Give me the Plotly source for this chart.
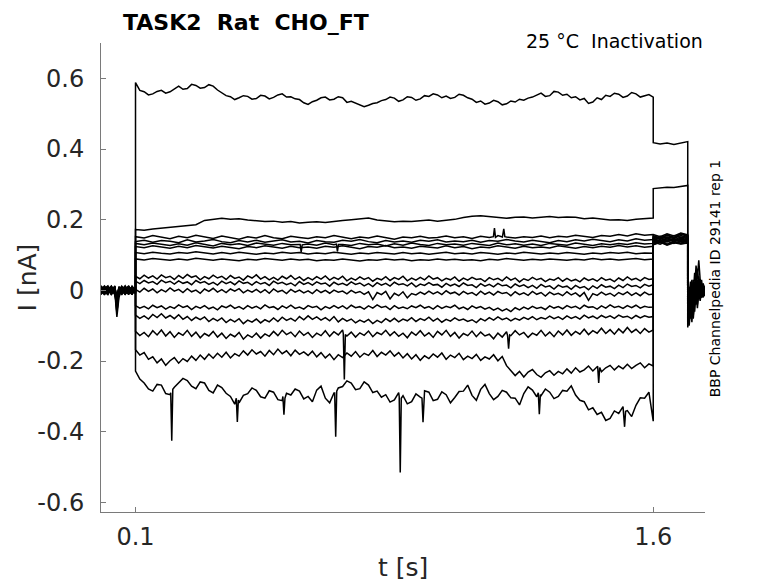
import plotly.graph_objects as go

# ---------------- time grids (s) ----------------
t_pre = [0.0, 0.01, 0.02, 0.03, 0.04, 0.046, 0.052, 0.06, 0.07, 0.08, 0.09, 0.1]
t_pulse = [round(0.1 + 0.025 * i, 4) for i in range(61)]      # coarse sampling
t_fine = [round(0.1 + 0.0125 * i, 5) for i in range(121)]     # fine sampling (noisy sweeps)
t_step = [1.6, 1.62, 1.64, 1.66, 1.68, 1.7]
t_tail = [1.7, 1.704, 1.708, 1.712, 1.716, 1.72, 1.724, 1.728, 1.732, 1.736, 1.74, 1.744, 1.75]

x_tick_vals = [0.1, 1.6]
x_tick_text = ["0.1", "1.6"]
y_tick_vals = [-0.6, -0.4, -0.2, 0.0, 0.2, 0.4, 0.6]
y_tick_text = ["-0.6", "-0.4", "-0.2", "0", "0.2", "0.4", "0.6"]

# ---------------- currents (nA) ----------------
pre_01 = [0.004,-0.008,0.010,-0.003,0.006,-0.012,0.002,-0.006,0.009,-0.004,0.007,-0.002]
pre_02 = [-0.006,0.008,-0.010,0.005,-0.004,-0.075,-0.020,0.004,-0.008,0.010,-0.005,0.003]
pre_03 = [0.010,-0.004,0.006,-0.011,0.003,-0.030,0.008,-0.010,0.004,-0.007,0.012,0.000]
pre_04 = [-0.002,0.012,-0.007,0.009,-0.013,-0.045,-0.004,0.010,-0.003,0.006,-0.009,0.005]
pre_05 = [0.008,-0.013,0.004,0.012,-0.006,-0.020,0.010,-0.005,0.011,-0.012,0.003,-0.004]
pre_06 = [-0.010,0.005,0.013,-0.006,0.010,-0.060,-0.012,0.007,-0.011,0.004,0.009,-0.006]
pre_07 = [0.013,0.002,-0.009,0.007,-0.002,-0.015,0.005,-0.013,0.006,0.011,-0.006,0.008]
pre_08 = [-0.005,-0.011,0.008,-0.013,0.012,-0.035,0.000,0.012,-0.006,-0.010,0.006,-0.008]
pre_09 = [0.006,0.010,-0.004,0.003,-0.010,-0.025,-0.007,0.003,0.013,-0.003,-0.011,0.002]
pre_10 = [-0.012,0.004,0.011,-0.008,0.005,-0.050,0.011,-0.008,-0.002,0.008,0.004,-0.010]
pre_11 = [0.002,-0.006,-0.012,0.010,-0.008,-0.010,-0.003,0.009,-0.012,0.013,-0.008,0.006]
pre_12 = [0.011,-0.009,0.003,-0.004,0.013,-0.040,0.006,-0.002,0.008,-0.006,0.010,-0.003]
pre_13 = [-0.008,0.013,-0.002,0.012,-0.005,-0.018,-0.010,0.011,-0.004,0.002,-0.012,0.009]
pre_14 = [0.005,-0.003,0.009,-0.010,0.008,-0.065,0.003,-0.011,0.010,-0.009,0.005,-0.001]
pre_15 = [-0.003,0.007,-0.006,0.004,-0.011,-0.028,0.009,-0.004,-0.010,0.012,-0.003,0.004]
pre_16 = [0.007,-0.010,0.002,-0.007,0.011,-0.022,-0.005,0.006,-0.009,0.003,-0.006,0.001]

# sweep 1 (top, ~0.55 nA), fine sampling
pulse_01 = [0.588,0.566,0.562,0.553,0.556,0.563,0.566,0.558,0.562,0.571,
            0.578,0.569,0.571,0.583,0.580,0.572,0.574,0.582,0.578,0.567,
            0.560,0.551,0.548,0.540,0.545,0.551,0.549,0.541,0.543,0.552,
            0.550,0.542,0.546,0.553,0.556,0.547,0.548,0.542,0.540,0.531,
            0.526,0.534,0.538,0.545,0.547,0.539,0.541,0.548,0.545,0.532,
            0.535,0.530,0.527,0.520,0.524,0.529,0.531,0.537,0.540,0.547,
            0.544,0.535,0.539,0.548,0.546,0.538,0.542,0.551,0.549,0.556,
            0.553,0.545,0.550,0.543,0.546,0.555,0.552,0.545,0.541,0.532,
            0.536,0.527,0.530,0.538,0.534,0.525,0.528,0.536,0.533,0.541,
            0.538,0.544,0.547,0.553,0.558,0.549,0.551,0.563,0.561,0.552,
            0.555,0.545,0.548,0.539,0.543,0.529,0.533,0.545,0.540,0.552,
            0.549,0.558,0.555,0.546,0.550,0.560,0.556,0.547,0.551,0.554,
            0.547]
# sweeps 2-8, coarse sampling
pulse_02 = [0.172,0.170,0.174,0.176,0.178,0.181,0.183,0.186,0.198,0.200,
            0.204,0.201,0.203,0.199,0.197,0.195,0.196,0.193,0.195,0.191,
            0.193,0.194,0.192,0.196,0.198,0.200,0.202,0.205,0.199,0.196,
            0.194,0.196,0.195,0.197,0.199,0.196,0.198,0.201,0.206,0.210,
            0.211,0.208,0.206,0.204,0.207,0.208,0.205,0.207,0.209,0.206,
            0.208,0.207,0.203,0.205,0.201,0.199,0.200,0.198,0.201,0.203,0.205]
pulse_03 = [0.152,0.148,0.155,0.150,0.146,0.153,0.149,0.156,0.151,0.147,
            0.154,0.150,0.145,0.152,0.148,0.155,0.149,0.146,0.153,0.150,
            0.147,0.152,0.149,0.155,0.150,0.146,0.151,0.148,0.154,0.150,
            0.145,0.151,0.149,0.153,0.148,0.150,0.154,0.149,0.152,0.147,
            0.153,0.150,0.155,0.151,0.148,0.152,0.150,0.154,0.149,0.153,
            0.151,0.156,0.152,0.150,0.155,0.153,0.158,0.154,0.160,0.156,0.158]
pulse_04 = [0.138,0.142,0.136,0.141,0.139,0.135,0.143,0.137,0.140,0.144,
            0.138,0.135,0.141,0.137,0.142,0.136,0.140,0.143,0.137,0.139,
            0.134,0.141,0.138,0.136,0.142,0.139,0.144,0.138,0.135,0.141,
            0.137,0.140,0.136,0.142,0.139,0.143,0.137,0.140,0.138,0.142,
            0.136,0.141,0.139,0.144,0.140,0.137,0.142,0.139,0.135,0.141,
            0.138,0.143,0.140,0.145,0.141,0.138,0.143,0.140,0.146,0.142,0.144]
pulse_05 = [0.133,0.129,0.134,0.130,0.127,0.132,0.128,0.135,0.131,0.126,
            0.133,0.129,0.132,0.127,0.134,0.130,0.128,0.133,0.129,0.130,
            0.131,0.128,0.134,0.129,0.130,0.127,0.133,0.129,0.131,0.126,
            0.132,0.128,0.134,0.130,0.127,0.133,0.129,0.131,0.128,0.133,
            0.130,0.127,0.134,0.129,0.132,0.128,0.131,0.127,0.133,0.130,
            0.128,0.134,0.130,0.127,0.132,0.129,0.133,0.130,0.135,0.131,0.133]
pulse_06 = [0.124,0.121,0.126,0.122,0.119,0.125,0.121,0.127,0.123,0.120,
            0.125,0.122,0.118,0.124,0.121,0.126,0.122,0.119,0.125,0.121,
            0.123,0.119,0.125,0.122,0.126,0.121,0.118,0.124,0.122,0.127,
            0.121,0.123,0.119,0.125,0.122,0.120,0.126,0.121,0.124,0.118,
            0.123,0.121,0.126,0.122,0.119,0.125,0.121,0.123,0.120,0.126,
            0.122,0.119,0.124,0.121,0.125,0.122,0.127,0.123,0.126,0.122,0.125]
pulse_07 = [0.107,0.104,0.108,0.105,0.103,0.107,0.105,0.109,0.106,0.103,
            0.107,0.104,0.108,0.105,0.102,0.106,0.104,0.108,0.105,0.107,
            0.103,0.106,0.104,0.108,0.105,0.102,0.106,0.104,0.107,0.105,
            0.103,0.107,0.104,0.106,0.102,0.105,0.108,0.104,0.106,0.103,
            0.107,0.105,0.102,0.106,0.104,0.108,0.105,0.103,0.106,0.104,
            0.107,0.105,0.102,0.106,0.104,0.107,0.105,0.108,0.104,0.106,0.105]
pulse_08 = [0.089,0.086,0.090,0.087,0.085,0.089,0.086,0.091,0.088,0.085,
            0.089,0.087,0.084,0.088,0.086,0.090,0.087,0.085,0.089,0.086,
            0.088,0.084,0.087,0.085,0.089,0.086,0.083,0.087,0.085,0.089,
            0.086,0.088,0.084,0.087,0.085,0.089,0.086,0.088,0.085,0.087,
            0.084,0.088,0.086,0.090,0.087,0.085,0.088,0.086,0.089,0.087,
            0.085,0.088,0.086,0.090,0.087,0.089,0.086,0.088,0.090,0.087,0.089]
# sweeps 9-16, fine sampling
pulse_09 = [0.040,0.033,0.043,0.035,0.041,0.032,0.044,0.036,0.040,0.031,
            0.042,0.034,0.045,0.037,0.041,0.030,0.039,0.033,0.043,0.035,
            0.040,0.031,0.042,0.034,0.038,0.029,0.041,0.035,0.044,0.032,
            0.039,0.030,0.037,0.029,0.040,0.033,0.042,0.031,0.038,0.028,
            0.036,0.030,0.039,0.032,0.041,0.029,0.037,0.031,0.040,0.027,
            0.035,0.029,0.038,0.031,0.036,0.026,0.034,0.030,0.039,0.028,
            0.036,0.031,0.040,0.027,0.035,0.029,0.037,0.030,0.041,0.032,
            0.036,0.027,0.034,0.030,0.038,0.026,0.035,0.029,0.037,0.031,
            0.033,0.025,0.036,0.030,0.034,0.027,0.038,0.029,0.035,0.024,
            0.033,0.028,0.037,0.030,0.034,0.025,0.032,0.029,0.036,0.026,
            0.034,0.027,0.031,0.024,0.035,0.028,0.033,0.026,0.036,0.029,
            0.032,0.025,0.035,0.028,0.038,0.030,0.034,0.027,0.036,0.031,
            0.033]
pulse_10 = [0.026,0.019,0.028,0.021,0.025,0.017,0.029,0.022,0.026,0.018,
            0.027,0.020,0.024,0.016,0.028,0.021,0.025,0.017,0.023,0.015,
            0.026,0.019,0.024,0.016,0.027,0.020,0.023,0.015,0.025,0.018,
            0.022,0.014,0.026,0.019,0.023,0.016,0.021,0.013,0.025,0.017,
            0.022,0.015,0.024,0.018,0.021,0.012,0.023,0.016,0.020,0.014,
            0.024,0.017,0.021,0.013,0.019,0.011,0.022,0.015,0.020,0.012,
            0.023,0.016,0.019,0.013,0.021,0.010,0.018,0.014,0.022,0.015,
            0.017,0.009,0.020,0.013,0.018,0.011,0.021,0.014,0.016,0.008,
            0.019,0.012,0.017,0.010,0.020,0.013,0.015,0.007,0.018,0.011,
            0.016,0.008,0.014,0.006,0.017,0.010,0.013,0.004,0.015,0.009,
            0.012,0.003,0.014,0.007,0.011,0.002,0.013,0.006,0.016,0.009,
            0.012,0.005,0.015,0.008,0.018,0.011,0.014,0.007,0.017,0.012,
            0.016]
pulse_11 = [0.003,-0.005,0.006,-0.003,0.004,-0.007,0.002,-0.004,0.007,-0.002,
            0.003,-0.006,0.005,-0.004,0.001,-0.008,0.004,-0.003,0.006,-0.005,
            0.002,-0.006,0.004,-0.002,0.005,-0.007,0.001,-0.005,0.003,-0.006,
            0.002,-0.008,0.004,-0.004,0.000,-0.009,0.003,-0.005,0.001,-0.007,
            -0.001,-0.009,0.002,-0.006,0.000,-0.008,0.001,-0.005,-0.002,-0.010,
            0.000,-0.007,-0.003,-0.011,-0.004,-0.026,-0.006,-0.012,-0.003,-0.024,
            -0.008,-0.015,-0.004,-0.021,-0.009,-0.013,-0.005,-0.011,-0.002,-0.010,
            -0.004,-0.012,-0.001,-0.009,-0.005,-0.013,-0.003,-0.010,-0.006,-0.014,
            -0.002,-0.011,-0.005,-0.013,-0.003,-0.009,-0.006,-0.015,-0.004,-0.012,
            -0.007,-0.014,-0.003,-0.011,-0.006,-0.016,-0.005,-0.012,-0.008,-0.015,
            -0.004,-0.013,-0.007,-0.017,-0.006,-0.028,-0.009,-0.014,-0.005,-0.013,
            -0.008,-0.016,-0.006,-0.012,-0.004,-0.014,-0.007,-0.015,-0.005,-0.012,
            -0.010]
pulse_12 = [-0.043,-0.050,-0.045,-0.052,-0.042,-0.049,-0.044,-0.053,-0.046,-0.051,
            -0.041,-0.048,-0.044,-0.054,-0.045,-0.050,-0.043,-0.052,-0.047,-0.055,
            -0.044,-0.049,-0.042,-0.051,-0.046,-0.053,-0.043,-0.050,-0.045,-0.052,
            -0.041,-0.049,-0.046,-0.054,-0.044,-0.050,-0.042,-0.051,-0.047,-0.053,
            -0.043,-0.048,-0.045,-0.055,-0.046,-0.051,-0.043,-0.050,-0.044,-0.052,
            -0.042,-0.049,-0.046,-0.053,-0.044,-0.050,-0.041,-0.048,-0.045,-0.054,
            -0.043,-0.051,-0.047,-0.052,-0.044,-0.049,-0.042,-0.050,-0.046,-0.053,
            -0.043,-0.051,-0.045,-0.049,-0.042,-0.052,-0.047,-0.054,-0.044,-0.050,
            -0.046,-0.053,-0.048,-0.056,-0.050,-0.058,-0.052,-0.060,-0.049,-0.055,
            -0.047,-0.053,-0.045,-0.051,-0.048,-0.054,-0.044,-0.050,-0.046,-0.052,
            -0.043,-0.049,-0.045,-0.052,-0.042,-0.048,-0.046,-0.053,-0.044,-0.050,
            -0.041,-0.048,-0.045,-0.051,-0.043,-0.049,-0.042,-0.050,-0.045,-0.048,
            -0.047]
pulse_13 = [-0.070,-0.079,-0.072,-0.081,-0.068,-0.077,-0.066,-0.078,-0.071,-0.080,
            -0.069,-0.082,-0.074,-0.085,-0.076,-0.083,-0.075,-0.088,-0.079,-0.086,
            -0.078,-0.091,-0.082,-0.089,-0.080,-0.094,-0.084,-0.090,-0.081,-0.092,
            -0.083,-0.089,-0.078,-0.088,-0.076,-0.085,-0.079,-0.087,-0.074,-0.083,
            -0.072,-0.082,-0.075,-0.084,-0.077,-0.086,-0.074,-0.089,-0.079,-0.087,
            -0.081,-0.092,-0.084,-0.090,-0.082,-0.094,-0.085,-0.091,-0.080,-0.088,
            -0.079,-0.089,-0.081,-0.086,-0.077,-0.088,-0.080,-0.085,-0.076,-0.087,
            -0.079,-0.090,-0.082,-0.087,-0.078,-0.085,-0.081,-0.088,-0.083,-0.091,
            -0.080,-0.086,-0.077,-0.084,-0.075,-0.083,-0.078,-0.086,-0.079,-0.084,
            -0.076,-0.082,-0.074,-0.083,-0.077,-0.081,-0.073,-0.080,-0.075,-0.082,
            -0.072,-0.079,-0.074,-0.081,-0.070,-0.078,-0.073,-0.080,-0.071,-0.077,
            -0.072,-0.079,-0.070,-0.076,-0.073,-0.080,-0.071,-0.078,-0.072,-0.076,
            -0.074]
pulse_14 = [-0.116,-0.128,-0.119,-0.131,-0.114,-0.126,-0.112,-0.129,-0.117,-0.133,
            -0.120,-0.127,-0.113,-0.130,-0.118,-0.134,-0.122,-0.129,-0.116,-0.132,
            -0.121,-0.136,-0.124,-0.131,-0.119,-0.138,-0.126,-0.133,-0.121,-0.135,
            -0.123,-0.130,-0.116,-0.128,-0.113,-0.125,-0.118,-0.131,-0.115,-0.127,
            -0.119,-0.133,-0.121,-0.128,-0.114,-0.130,-0.117,-0.126,-0.112,-0.129,
            -0.118,-0.132,-0.120,-0.127,-0.115,-0.131,-0.119,-0.125,-0.113,-0.128,
            -0.117,-0.130,-0.121,-0.134,-0.118,-0.127,-0.114,-0.129,-0.120,-0.133,
            -0.116,-0.126,-0.113,-0.130,-0.119,-0.135,-0.122,-0.128,-0.115,-0.131,
            -0.118,-0.129,-0.124,-0.137,-0.121,-0.132,-0.117,-0.128,-0.114,-0.126,
            -0.119,-0.133,-0.121,-0.127,-0.113,-0.129,-0.118,-0.131,-0.115,-0.126,
            -0.112,-0.127,-0.116,-0.124,-0.110,-0.125,-0.114,-0.121,-0.107,-0.122,
            -0.111,-0.124,-0.109,-0.120,-0.105,-0.119,-0.110,-0.122,-0.108,-0.118,
            -0.112]
pulse_15 = [-0.168,-0.183,-0.176,-0.195,-0.188,-0.205,-0.194,-0.212,-0.199,-0.190,
            -0.206,-0.193,-0.201,-0.186,-0.198,-0.183,-0.195,-0.180,-0.192,-0.178,
            -0.189,-0.175,-0.191,-0.179,-0.186,-0.171,-0.183,-0.168,-0.180,-0.173,
            -0.186,-0.170,-0.182,-0.166,-0.179,-0.171,-0.185,-0.169,-0.181,-0.174,
            -0.184,-0.172,-0.188,-0.176,-0.191,-0.180,-0.196,-0.182,-0.190,-0.177,
            -0.186,-0.173,-0.189,-0.178,-0.184,-0.170,-0.187,-0.175,-0.183,-0.171,
            -0.186,-0.176,-0.191,-0.179,-0.194,-0.182,-0.198,-0.185,-0.193,-0.180,
            -0.189,-0.177,-0.195,-0.183,-0.190,-0.178,-0.196,-0.186,-0.193,-0.181,
            -0.198,-0.188,-0.194,-0.182,-0.199,-0.187,-0.213,-0.226,-0.241,-0.229,
            -0.245,-0.231,-0.224,-0.238,-0.246,-0.233,-0.227,-0.240,-0.229,-0.236,
            -0.222,-0.234,-0.219,-0.231,-0.225,-0.214,-0.228,-0.216,-0.230,-0.219,
            -0.212,-0.225,-0.214,-0.222,-0.209,-0.221,-0.212,-0.205,-0.219,-0.208,
            -0.214]
pulse_16 = [-0.228,-0.251,-0.262,-0.279,-0.285,-0.266,-0.268,-0.292,-0.295,-0.274,
            -0.262,-0.249,-0.255,-0.271,-0.278,-0.259,-0.262,-0.283,-0.290,-0.268,
            -0.275,-0.291,-0.300,-0.322,-0.318,-0.297,-0.292,-0.276,-0.283,-0.301,
            -0.305,-0.284,-0.288,-0.309,-0.312,-0.291,-0.296,-0.279,-0.285,-0.307,
            -0.300,-0.315,-0.282,-0.271,-0.305,-0.318,-0.290,-0.276,-0.272,-0.256,
            -0.262,-0.281,-0.278,-0.259,-0.268,-0.289,-0.285,-0.302,-0.295,-0.316,
            -0.310,-0.289,-0.298,-0.321,-0.315,-0.293,-0.302,-0.284,-0.288,-0.312,
            -0.308,-0.287,-0.295,-0.318,-0.303,-0.286,-0.285,-0.268,-0.297,-0.311,
            -0.280,-0.266,-0.292,-0.309,-0.300,-0.283,-0.288,-0.304,-0.305,-0.324,
            -0.292,-0.273,-0.282,-0.301,-0.298,-0.279,-0.288,-0.306,-0.300,-0.283,
            -0.285,-0.270,-0.296,-0.311,-0.315,-0.338,-0.332,-0.351,-0.345,-0.368,
            -0.362,-0.341,-0.348,-0.329,-0.340,-0.357,-0.325,-0.304,-0.305,-0.288,
            -0.370]

# sharp transients (t, I)
spikes_03 = [(1.137, 0.152), (1.140, 0.176), (1.143, 0.150),
             (1.163, 0.151), (1.167, 0.174), (1.170, 0.152)]
spikes_05 = [(0.577, 0.130), (0.580, 0.108), (0.583, 0.129),
             (0.682, 0.131), (0.685, 0.110), (0.688, 0.130)]
spikes_14 = [(0.702, -0.122), (0.705, -0.252), (0.708, -0.125),
             (1.178, -0.128), (1.181, -0.165), (1.184, -0.126)]
spikes_15 = [(1.439, -0.215), (1.442, -0.262), (1.445, -0.218)]
spikes_16 = [(0.202, -0.290), (0.205, -0.425), (0.208, -0.280),
             (0.392, -0.305), (0.395, -0.372), (0.398, -0.310),
             (0.527, -0.300), (0.530, -0.352), (0.533, -0.305),
             (0.677, -0.290), (0.680, -0.414), (0.683, -0.285),
             (0.864, -0.300), (0.867, -0.515), (0.870, -0.305),
             (0.930, -0.305), (0.933, -0.373), (0.936, -0.300),
             (1.267, -0.290), (1.270, -0.350), (1.273, -0.295),
             (1.514, -0.345), (1.517, -0.386), (1.520, -0.342)]

step_01 = [0.418, 0.414, 0.417, 0.413, 0.418, 0.421]
step_02 = [0.288, 0.290, 0.292, 0.291, 0.295, 0.297]
step_03 = [0.158, 0.152, 0.160, 0.154, 0.162, 0.157]
step_04 = [0.146, 0.153, 0.148, 0.155, 0.150, 0.152]
step_05 = [0.140, 0.135, 0.143, 0.138, 0.145, 0.141]
step_06 = [0.133, 0.140, 0.131, 0.137, 0.134, 0.139]
step_07 = [0.150, 0.144, 0.152, 0.147, 0.155, 0.149]
step_08 = [0.137, 0.131, 0.139, 0.133, 0.141, 0.136]
step_09 = [0.155, 0.148, 0.157, 0.150, 0.159, 0.153]
step_10 = [0.129, 0.136, 0.130, 0.138, 0.132, 0.135]
step_11 = [0.147, 0.140, 0.149, 0.143, 0.151, 0.146]
step_12 = [0.142, 0.149, 0.140, 0.147, 0.138, 0.144]
step_13 = [0.135, 0.143, 0.137, 0.145, 0.139, 0.142]
step_14 = [0.153, 0.146, 0.156, 0.149, 0.161, 0.155]
step_15 = [0.144, 0.138, 0.146, 0.140, 0.148, 0.143]
step_16 = [0.130, 0.137, 0.128, 0.135, 0.131, 0.134]

tail_01 = [-0.105,-0.060,-0.020,0.010,-0.030,0.020,-0.010,0.030,-0.005,0.015,-0.020,0.005,-0.010]
tail_02 = [-0.090,-0.030,0.000,-0.040,0.010,-0.020,0.040,0.000,0.025,-0.015,0.010,-0.005,0.000]
tail_03 = [-0.070,-0.040,-0.080,-0.010,-0.050,0.000,-0.030,0.010,-0.020,0.005,-0.010,0.015,-0.005]
tail_04 = [-0.020,0.010,-0.030,0.020,-0.010,0.050,0.020,0.060,0.010,0.030,-0.010,0.020,0.005]
tail_05 = [-0.050,-0.090,-0.030,-0.060,-0.010,-0.040,0.000,-0.020,0.010,-0.015,0.000,-0.010,-0.005]
tail_06 = [0.000,-0.020,0.010,-0.010,0.030,0.000,0.070,0.040,0.085,0.030,0.010,0.000,0.010]
tail_07 = [-0.030,0.000,-0.050,-0.010,-0.070,-0.020,-0.040,0.000,-0.025,-0.005,-0.020,0.000,-0.010]
tail_08 = [-0.010,-0.040,0.005,-0.025,0.015,-0.010,0.020,-0.005,0.040,0.010,0.030,-0.005,0.000]
tail_09 = [-0.060,-0.020,-0.045,0.000,-0.030,0.010,-0.015,0.020,-0.010,0.000,-0.020,0.005,-0.015]
tail_10 = [-0.040,-0.100,-0.060,-0.020,-0.080,-0.030,-0.010,-0.050,-0.005,-0.030,0.000,-0.020,-0.010]
tail_11 = [0.010,-0.015,0.025,-0.005,0.015,-0.020,0.005,-0.030,0.000,-0.010,0.010,-0.015,0.000]
tail_12 = [-0.080,-0.050,-0.010,-0.035,0.000,-0.025,0.010,-0.015,0.005,-0.020,0.000,-0.010,-0.005]
tail_13 = [-0.015,0.005,-0.020,0.030,-0.005,0.010,-0.030,0.015,-0.010,0.005,-0.015,0.010,0.000]
tail_14 = [-0.100,-0.070,-0.040,-0.090,-0.030,-0.060,-0.010,-0.040,0.000,-0.025,-0.005,-0.015,-0.010]
tail_15 = [-0.025,0.000,-0.015,0.010,-0.040,0.000,0.030,0.050,0.020,0.000,-0.010,0.005,0.000]
tail_16 = [-0.045,-0.015,-0.070,-0.025,0.005,-0.035,0.015,-0.010,0.030,0.000,0.015,-0.005,0.005]

sweeps = [
    (pre_01, t_fine,  pulse_01, [],        step_01, tail_01),
    (pre_02, t_pulse, pulse_02, [],        step_02, tail_02),
    (pre_03, t_pulse, pulse_03, spikes_03, step_03, tail_03),
    (pre_04, t_pulse, pulse_04, [],        step_04, tail_04),
    (pre_05, t_pulse, pulse_05, spikes_05, step_05, tail_05),
    (pre_06, t_pulse, pulse_06, [],        step_06, tail_06),
    (pre_07, t_pulse, pulse_07, [],        step_07, tail_07),
    (pre_08, t_pulse, pulse_08, [],        step_08, tail_08),
    (pre_09, t_fine,  pulse_09, [],        step_09, tail_09),
    (pre_10, t_fine,  pulse_10, [],        step_10, tail_10),
    (pre_11, t_fine,  pulse_11, [],        step_11, tail_11),
    (pre_12, t_fine,  pulse_12, [],        step_12, tail_12),
    (pre_13, t_fine,  pulse_13, [],        step_13, tail_13),
    (pre_14, t_fine,  pulse_14, spikes_14, step_14, tail_14),
    (pre_15, t_fine,  pulse_15, spikes_15, step_15, tail_15),
    (pre_16, t_fine,  pulse_16, spikes_16, step_16, tail_16),
]

FONT = "DejaVu Sans"
AXIS_GREY = "#7a7a7a"
TEXT_GREY = "#262626"

fig = go.Figure()
for pre, tgrid, pulse, spikes, step, tail in sweeps:
    pts = sorted(list(zip(tgrid, pulse)) + list(spikes), key=lambda p: p[0])
    xs = t_pre + [p[0] for p in pts] + t_step + t_tail
    ys = pre + [p[1] for p in pts] + step + tail
    fig.add_trace(go.Scatter(x=xs, y=ys, mode="lines",
                             line=dict(color="black", width=1.5),
                             hoverinfo="skip", showlegend=False))

# the page adds an 8 px body margin, so the figure is 8 px smaller on each side
fig.update_layout(
    width=770, height=575,
    margin=dict(l=93, r=73, t=35, b=71),
    paper_bgcolor="white", plot_bgcolor="white",
    font=dict(family=FONT, color=TEXT_GREY),
    xaxis=dict(range=[0, 1.75], tickvals=x_tick_vals, ticktext=x_tick_text,
               ticks="inside", ticklen=5, tickcolor=AXIS_GREY, tickwidth=1,
               showline=True, linecolor=AXIS_GREY, linewidth=1, mirror=False,
               showgrid=False, zeroline=False, automargin=False,
               tickfont=dict(size=24, color=TEXT_GREY), ticklabelstandoff=3),
    yaxis=dict(range=[-0.627, 0.7], tickvals=y_tick_vals, ticktext=y_tick_text,
               ticks="inside", ticklen=5, tickcolor=AXIS_GREY, tickwidth=1,
               showline=True, linecolor=AXIS_GREY, linewidth=1, mirror=False,
               showgrid=False, zeroline=False, automargin=False,
               tickfont=dict(size=24, color=TEXT_GREY), ticklabelstandoff=11),
    annotations=[
        dict(text="t [s]", xref="paper", yref="paper", x=0.5, y=-0.118,
             xanchor="center", yanchor="middle", showarrow=False,
             font=dict(family=FONT, size=25, color=TEXT_GREY)),
        dict(text="I [nA]", xref="paper", yref="paper", x=-0.121, y=0.5,
             xanchor="center", yanchor="middle", showarrow=False, textangle=-90,
             font=dict(family=FONT, size=25, color=TEXT_GREY)),
        dict(text="<b>TASK2\u00a0\u00a0Rat\u00a0\u00a0CHO_FT</b>", xref="paper", yref="paper",
             x=0.240, y=1.043, xanchor="center", yanchor="middle", showarrow=False,
             font=dict(family=FONT, size=22, color="black")),
        dict(text="25 °C\u00a0\u00a0Inactivation", xref="paper", yref="paper",
             x=1.0, y=1.004, xanchor="right", yanchor="middle", showarrow=False,
             font=dict(family=FONT, size=19, color="black")),
        dict(text="BBP Channelpedia ID 29141 rep 1", xref="paper", yref="paper",
             x=1.018, y=0.498, xanchor="center", yanchor="middle", showarrow=False,
             textangle=-90, font=dict(family=FONT, size=14, color="black")),
    ],
)

fig.write_html("out.html")
